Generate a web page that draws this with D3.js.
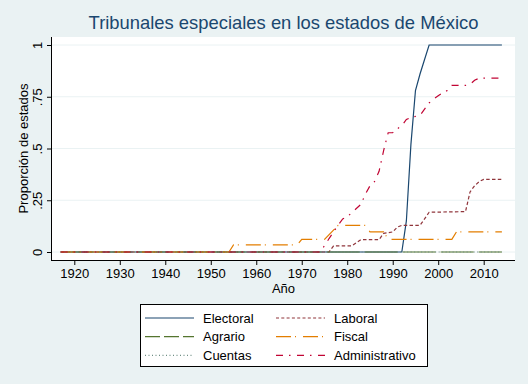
<!DOCTYPE html>
<html>
<head>
<meta charset="utf-8">
<script src="https://cdn.jsdelivr.net/npm/d3@7"></script>
<style>
  body { margin: 0; background: #eaf2f3; }
  svg { display: block; font-family: "Liberation Sans", Arial, Helvetica, sans-serif; }
</style>
</head>
<body>
<div id="canvas"></div>
<script>
"use strict"

/* canvas size */
let svgWidth = 528;
let svgHeight = 384;

/* plot region (white box) */
let plotLeft = 52
let plotRight = 515
let plotTop = 37
let plotBottom = 260

/* tick values and labels */
let xTicks = [1920, 1930, 1940, 1950, 1960, 1970, 1980, 1990, 2000, 2010];
let yTicks = [0, 0.25, 0.5, 0.75, 1];
let yTickLabels = ["0", ".25", ".5", ".75", "1"];

/* series as [year, proportion] points */
let electoral = [[1917, 0], [1992, 0], [1993, 0.15], [1994, 0.52], [1995, 0.78], [1996, 0.86],
    [1997, 0.93], [1998, 1], [2014, 1]];
let laboral = [[1917, 0], [1976, 0], [1977, 0.03], [1981, 0.03], [1982, 0.045], [1983, 0.06],
    [1987, 0.06], [1988, 0.09], [1990, 0.097], [1991, 0.12], [1992, 0.129], [1996, 0.129],
    [1997, 0.16], [1998, 0.192], [2006, 0.195], [2007, 0.29], [2008, 0.32], [2009, 0.34],
    [2010, 0.351], [2014, 0.351]];
let agrario = [[1917, 0], [2014, 0]];
let fiscal = [[1917, 0], [1954, 0], [1955, 0.034], [1969, 0.034], [1970, 0.061], [1975, 0.061],
    [1978, 0.129], [1984, 0.129], [1985, 0.097], [1988, 0.097], [1989, 0.061], [2003, 0.061],
    [2004, 0.097], [2014, 0.097]];
let cuentas = [[1917, 0], [2014, 0]];
let administrativo = [[1917, 0], [1974, 0], [1975, 0.03], [1976, 0.065], [1977, 0.097],
    [1978, 0.13], [1979, 0.16], [1980, 0.17], [1981, 0.19], [1982, 0.21], [1983, 0.23],
    [1984, 0.28], [1985, 0.32], [1986, 0.34], [1987, 0.39], [1988, 0.49], [1989, 0.576],
    [1990, 0.576], [1991, 0.595], [1992, 0.61], [1993, 0.64], [1994, 0.65], [1996, 0.66],
    [1997, 0.69], [1998, 0.72], [1999, 0.74], [2000, 0.755], [2001, 0.77], [2002, 0.78],
    [2003, 0.805], [2006, 0.805], [2007, 0.81], [2008, 0.83], [2009, 0.84], [2014, 0.84]];

let seriesNames = ["Electoral", "Laboral", "Agrario", "Fiscal", "Cuentas", "Administrativo"];
let seriesData = [electoral, laboral, agrario, fiscal, cuentas, administrativo];
let seriesColors = ["#1a476f", "#90353b", "#55752f", "#e37e00", "#6e8e84", "#c10534"];
let seriesDash = [null, "3.5,2.3", "33,5", "15,4,1,7", "1,2.5", "7,6,1.5,6.5"];
let legendDash = [null, "3,2.3", "15,4", "15,4,1,7", "1,2.5", "7,6,1.5,6.5"];

let svg = d3.select("#canvas")
    .append("svg")
    .attr("width", svgWidth)
    .attr("height", svgHeight);

svg.append("rect")
    .attr("width", svgWidth)
    .attr("height", svgHeight)
    .attr("fill", "#eaf2f3");

/* white plot region */
svg.append("rect")
    .attr("x", plotLeft)
    .attr("y", plotTop)
    .attr("width", plotRight - plotLeft)
    .attr("height", plotBottom - plotTop)
    .attr("fill", "white");

let xScale = d3.scaleLinear()
    .domain([1920, 2010])
    .range([74.3, 483.7]);

let yScale = d3.scaleLinear()
    .domain([0, 1])
    .range([252, 45]);

/* grid lines */
svg.selectAll(".grid")
    .data(yTicks)
    .join("line")
    .attr("class", "grid")
    .attr("x1", plotLeft)
    .attr("x2", plotRight)
    .attr("y1", d => yScale(d))
    .attr("y2", d => yScale(d))
    .attr("stroke", "#eaf2f3")
    .attr("stroke-width", 1);

/* data lines */
let line = d3.line()
    .x(d => xScale(d[0]))
    .y(d => yScale(d[1]));

seriesData.forEach(function (data, i) {
    svg.append("path")
        .datum(data)
        .attr("d", line)
        .attr("fill", "none")
        .attr("stroke", seriesColors[i])
        .attr("stroke-width", 1.2)
        .attr("stroke-dasharray", seriesDash[i]);
});

/* axes */
let xAxis = svg.append("g")
    .attr("transform", "translate(0," + plotBottom + ")")
    .call(d3.axisBottom(xScale).tickValues(xTicks).tickFormat(d3.format("d")).tickSize(5).tickSizeOuter(0));
xAxis.select(".domain").remove();
xAxis.selectAll("text")
    .attr("y", 18)
    .attr("dy", null)
    .style("font-size", "13px")
    .style("font-family", "Liberation Sans, Arial, sans-serif")
    .attr("fill", "black");

let yAxis = svg.append("g")
    .attr("transform", "translate(" + plotLeft + ",0)")
    .call(d3.axisLeft(yScale).tickValues(yTicks).tickFormat((d, i) => yTickLabels[i]).tickSize(5).tickSizeOuter(0));
yAxis.select(".domain").remove();
yAxis.selectAll("text")
    .attr("x", 0)
    .attr("y", -10)
    .attr("dy", null)
    .attr("text-anchor", "middle")
    .attr("transform", "rotate(-90)")
    .style("font-size", "13px")
    .style("font-family", "Liberation Sans, Arial, sans-serif")
    .attr("fill", "black");

svg.append("line")
    .attr("x1", plotLeft)
    .attr("x2", plotRight)
    .attr("y1", plotBottom + 0.5)
    .attr("y2", plotBottom + 0.5)
    .attr("stroke", "black");

svg.append("line")
    .attr("x1", plotLeft - 0.5)
    .attr("x2", plotLeft - 0.5)
    .attr("y1", plotTop)
    .attr("y2", plotBottom + 1)
    .attr("stroke", "black");

/* titles */
svg.append("text")
    .attr("x", (plotLeft + plotRight) / 2)
    .attr("y", 29)
    .attr("text-anchor", "middle")
    .style("font-size", "18.4px")
    .attr("fill", "#1a476f")
    .text("Tribunales especiales en los estados de México");

svg.append("text")
    .attr("x", (plotLeft + plotRight) / 2)
    .attr("y", 293)
    .attr("text-anchor", "middle")
    .style("font-size", "13px")
    .text("Año");

svg.append("text")
    .attr("transform", "translate(28," + (plotTop + plotBottom) / 2 + ") rotate(-90)")
    .attr("text-anchor", "middle")
    .style("font-size", "13px")
    .text("Proporción de estados");

/* legend */
let legendX = 140
let legendY = 304
svg.append("rect")
    .attr("x", legendX + 0.5)
    .attr("y", legendY + 0.5)
    .attr("width", 287)
    .attr("height", 62)
    .attr("fill", "white")
    .attr("stroke", "black");

seriesNames.forEach(function (name, i) {
    let col = i % 2;
    let row = Math.floor(i / 2);
    let lx = legendX + 5 + col * 131;
    let ly = legendY + 14 + row * 18.7;
    svg.append("line")
        .attr("x1", lx)
        .attr("x2", lx + 49)
        .attr("y1", ly)
        .attr("y2", ly)
        .attr("stroke", seriesColors[i])
        .attr("stroke-width", 1.2)
        .attr("stroke-dasharray", legendDash[i]);
    svg.append("text")
        .attr("x", lx + 58)
        .attr("y", ly + 4.5)
        .style("font-size", "13px")
        .text(name);
});
</script>
</body>
</html>
